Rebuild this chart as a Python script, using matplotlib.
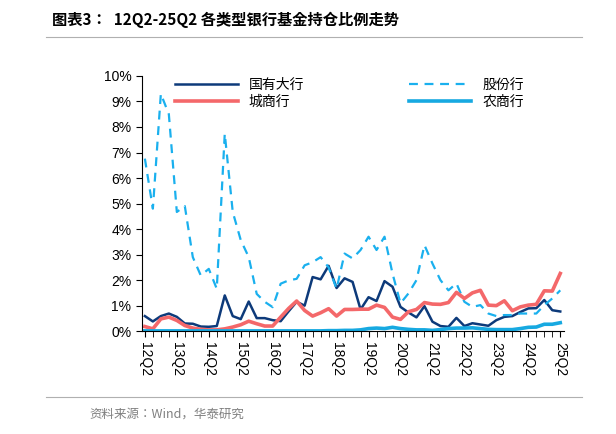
import matplotlib.pyplot as plt
from matplotlib import font_manager
from matplotlib.ticker import FuncFormatter

cjk_names = sorted({f.name for f in font_manager.fontManager.ttflist if 'CJK' in f.name})
cjk = next((n for n in cjk_names if 'SC' in n), cjk_names[0] if cjk_names else 'DejaVu Sans')
plt.rcParams['font.family'] = ['Liberation Sans', cjk]

quarters = [f"{y}Q{q}" for y in range(12, 26) for q in (1, 2, 3, 4)][1:54]
tick_labels = [f"{y}Q2" for y in range(12, 26)]

state = [0.59, 0.38, 0.59, 0.69, 0.56, 0.30, 0.29, 0.18, 0.17, 0.20, 1.40, 0.59, 0.47, 1.16,
         0.51, 0.51, 0.43, 0.39, 0.78, 1.15, 1.00, 2.12, 2.03, 2.56, 1.69, 2.07, 1.93, 0.85,
         1.33, 1.18, 1.96, 1.74, 0.95, 0.73, 0.54, 0.98, 0.37, 0.20, 0.17, 0.52, 0.20, 0.31,
         0.26, 0.21, 0.43, 0.56, 0.59, 0.75, 0.89, 0.90, 1.22, 0.82, 0.77]
joint = [6.76, 4.80, 9.30, 8.50, 4.67, 4.90, 2.90, 2.18, 2.44, 1.66, 7.74, 4.67, 3.57, 2.90,
         1.46, 1.15, 0.94, 1.86, 1.99, 2.05, 2.58, 2.70, 2.90, 2.50, 1.66, 3.04, 2.85, 3.18,
         3.70, 3.18, 3.70, 2.26, 1.09, 1.48, 2.00, 3.37, 2.65, 2.00, 1.60, 1.87, 1.15, 0.95,
         1.02, 0.69, 0.59, 0.63, 0.63, 0.69, 0.69, 0.69, 1.02, 1.28, 1.60]
city = [0.18, 0.09, 0.48, 0.55, 0.42, 0.22, 0.12, 0.07, 0.05, 0.05, 0.09, 0.16, 0.25, 0.39,
        0.29, 0.20, 0.20, 0.55, 0.89, 1.18, 0.81, 0.59, 0.72, 0.88, 0.59, 0.85, 0.85, 0.86,
        0.86, 1.02, 0.93, 0.55, 0.46, 0.76, 0.85, 1.12, 1.06, 1.05, 1.12, 1.52, 1.28, 1.50,
        1.60, 1.02, 1.00, 1.19, 0.80, 0.95, 1.02, 1.05, 1.58, 1.57, 2.26]
rural = [0.01, 0.01, 0.01, 0.01, 0.01, 0.01, 0.01, 0.01, 0.01, 0.01, 0.01, 0.01, 0.01, 0.01,
         0.01, 0.01, 0.01, 0.01, 0.01, 0.01, 0.01, 0.01, 0.01, 0.02, 0.02, 0.03, 0.03, 0.05,
         0.10, 0.12, 0.10, 0.15, 0.10, 0.07, 0.05, 0.05, 0.03, 0.06, 0.10, 0.12, 0.12, 0.13,
         0.10, 0.07, 0.06, 0.06, 0.06, 0.10, 0.15, 0.16, 0.27, 0.27, 0.33]

fig = plt.figure(figsize=(6.16, 4.34), dpi=100)
ax = fig.add_axes([0.230, 0.237, 0.686, 0.588])
x = list(range(len(quarters)))

l1, = ax.plot(x, state, color='#0d3a7a', lw=1.8, label='国有大行')
l2, = ax.plot(x, joint, color='#1ab0ee', lw=1.6, ls=(0, (4, 3)), label='股份行')
l3, = ax.plot(x, city, color='#f4686a', lw=2.6, label='城商行')
l4, = ax.plot(x, rural, color='#17a9e1', lw=2.6, label='农商行')

ax.set_xlim(-0.4, 52.5)
ax.set_ylim(0, 10)
ax.set_yticks(range(0, 11))
ax.yaxis.set_major_formatter(FuncFormatter(lambda v, p: f"{int(v)}%"))
ax.set_xticks(x, minor=True)
ax.set_xticks([quarters.index(t) for t in tick_labels])
ax.set_xticklabels(tick_labels, rotation=270, fontsize=10)
ax.tick_params(axis='x', which='both', direction='out', length=4)
ax.tick_params(axis='y', labelsize=10, length=4)
for s in ('top', 'right'):
    ax.spines[s].set_visible(False)

ax.legend([l1, l3, l2, l4], ['国有大行', '城商行', '股份行', '农商行'], ncol=2, frameon=False,
          loc='upper left', bbox_to_anchor=(0.05, 1.04), columnspacing=7.5,
          handlelength=4.5, fontsize=10, labelspacing=0.2)

# header / footer
fig.text(0.085, 0.955, '图表3：  12Q2-25Q2 各类型银行基金持仓比例走势', fontsize=11,
         fontweight='bold', family=cjk, va='center')
fig.add_artist(plt.Line2D([0.075, 0.945], [0.915, 0.915], color='#b0b0b0', lw=0.8))
fig.add_artist(plt.Line2D([0.075, 0.945], [0.085, 0.085], color='#b0b0b0', lw=0.8))
fig.text(0.145, 0.045, '资料来源：Wind，华泰研究', fontsize=9, color='#808080',
         family=cjk, va='center')

fig.savefig('out.png', dpi=100)
